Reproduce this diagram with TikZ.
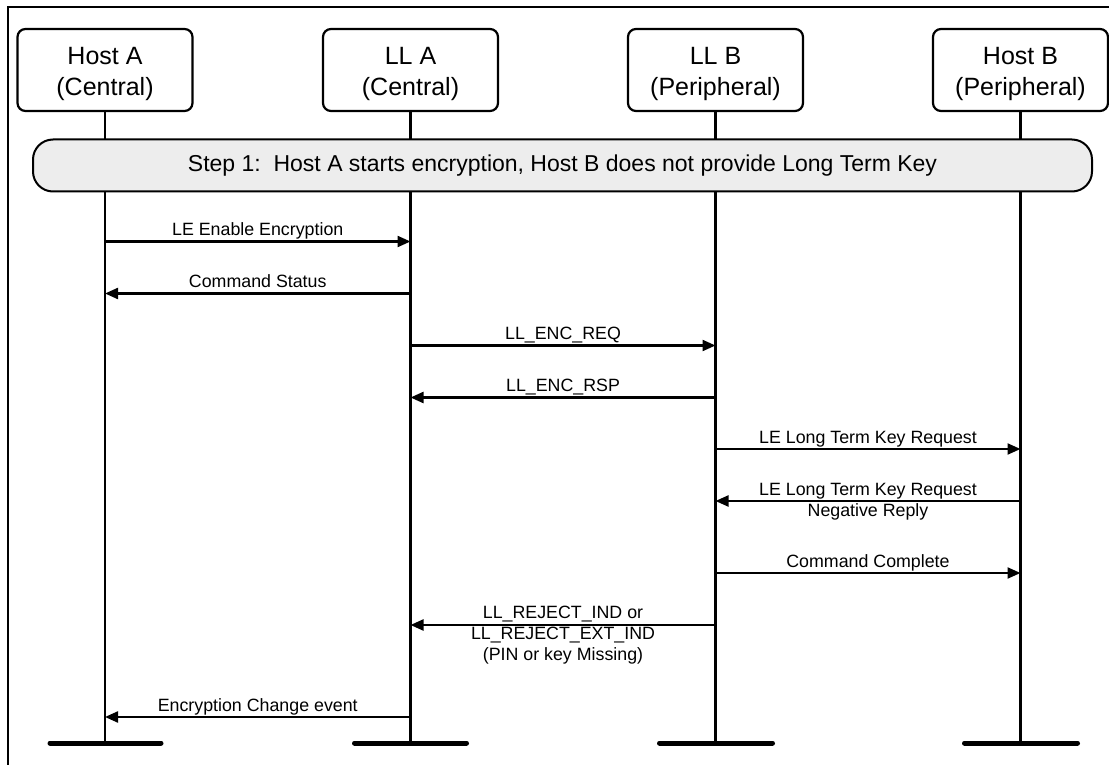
\documentclass[tikz,border=0pt]{standalone}
\usepackage{fontspec}
\setmainfont{Liberation Sans}
\usetikzlibrary{arrows.meta}
\newcommand{\hdrstrut}{\rule{0pt}{26pt}}
\begin{document}
\begin{tikzpicture}[x=1pt,y=-1pt,
  hdr/.style={draw, line width=2.2pt, rounded corners=8pt, minimum width=175pt, minimum height=82pt, align=center, inner sep=0pt, font=\fontsize{25}{31}\selectfont},
  life/.style={line width=2.4pt},
  msg/.style={line width=2.2pt, -{Triangle[length=13pt,width=11pt]}},
  lbl/.style={midway, anchor=base, yshift=6pt, align=center, inner sep=0pt, font=\fontsize{17.8}{21}\selectfont},
  two/.style={yshift=-21pt},
  three/.style={yshift=-41pt},
  endbar/.style={line width=5pt, line cap=round},
  stepbox/.style={draw, line width=2pt, fill=black!7, rounded corners=20pt, minimum width=1059pt, minimum height=52pt, inner sep=0pt, font=\fontsize{23}{27}\selectfont}]
\clip (0,0) rectangle (1109,765);
\draw[line width=2pt] (8,7) rectangle (1112,772);
% headers
\node[hdr] (hA) at (105,70) {\hdrstrut Host A\\(Central)};
\node[hdr] (lA) at (410.5,70) {\hdrstrut LL A\\(Central)};
\node[hdr] (lB) at (715.5,70) {\hdrstrut LL B\\(Peripheral)};
\node[hdr] (hB) at (1020.5,70) {\hdrstrut Host B\\(Peripheral)};
% lifeline ends
\coordinate (eA) at (105,743);
\coordinate (eLA) at (410.5,743);
\coordinate (eLB) at (715.5,743);
\coordinate (eB) at (1020.5,743);
\draw[life] (hA.south) -- (eA);
\draw[life] (lA.south) -- (eLA);
\draw[life] (lB.south) -- (eLB);
\draw[life] (hB.south) -- (eB);
\draw[endbar] ([xshift=-55pt]eA) -- ([xshift=56pt]eA);
\draw[endbar] ([xshift=-56pt]eLA) -- ([xshift=56pt]eLA);
\draw[endbar] ([xshift=-56pt]eLB) -- ([xshift=57pt]eLB);
\draw[endbar] ([xshift=-56pt]eB) -- ([xshift=57pt]eB);
% step
\node[stepbox] (step) at (562.5,165.5) {Step 1:\ \ Host A starts encryption, Host B does not provide Long Term Key};
% messages
\draw[msg] (hA |- 0,241.5) -- node[lbl] (m1) {LE Enable Encryption} (lA |- 0,241.5);
\draw[msg] (lA |- 0,293.5) -- node[lbl] (m2) {Command Status} (hA |- 0,293.5);
\draw[msg] (lA |- 0,345.5) -- node[lbl] (m3) {LL\_ENC\_REQ} (lB |- 0,345.5);
\draw[msg] (lB |- 0,397.5) -- node[lbl] (m4) {LL\_ENC\_RSP} (lA |- 0,397.5);
\draw[msg] (lB |- 0,449) -- node[lbl] (m5) {LE Long Term Key Request} (hB |- 0,449);
\draw[msg] (hB |- 0,501) -- node[lbl, two] (m6) {LE Long Term Key Request\\Negative Reply} (lB |- 0,501);
\draw[msg] (lB |- 0,573) -- node[lbl] (m7) {Command Complete} (hB |- 0,573);
\draw[msg] (lB |- 0,625) -- node[lbl, three] (m8) {LL\_REJECT\_IND or\\LL\_REJECT\_EXT\_IND\\(PIN or key Missing)} (lA |- 0,625);
\draw[msg] (lA |- 0,717) -- node[lbl] (m9) {Encryption Change event} (hA |- 0,717);
\end{tikzpicture}
\end{document}
